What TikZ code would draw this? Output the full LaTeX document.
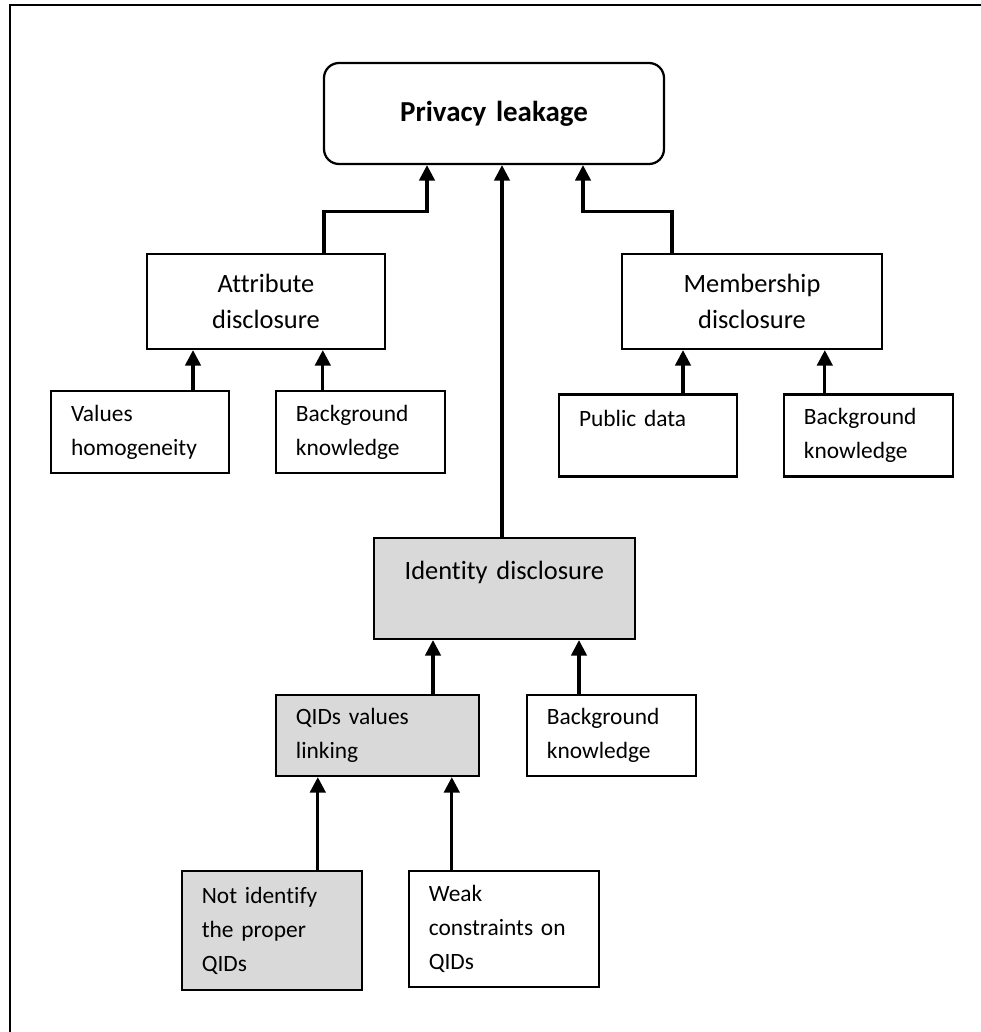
\documentclass[tikz,border=0pt]{standalone}
\usepackage{fontspec}
\setmainfont[Ligatures={NoCommon,NoRare,NoContextual}]{Carlito}
\usetikzlibrary{arrows.meta,calc}
\definecolor{boxgray}{HTML}{D9D9D9}
\tikzset{
>={Triangle[width=11pt,length=11pt]},
	topbox/.style={
		rectangle,
		rounded corners=0.375cm,
		fill=white,
		draw=black, line width=1.6pt,
		text width=7.5cm,
		inner xsep=0.5cm,
		minimum height=2.525cm,
		text centered,
		font=\fontsize{20.6}{25}\selectfont\bfseries},
	midbox/.style={
		rectangle,
		sharp corners,
		fill=white,
		draw=black, line width=1.6pt,
		inner xsep=0.5cm,
		minimum height=2.375cm,
		text centered,
		font=\fontsize{18.8}{25.6}\selectfont},
	leafbox/.style={
		rectangle,
		sharp corners,
		fill=white,
		draw=black, line width=1.6pt,
		text width=3.225cm,
		inner xsep=0.5cm,
		minimum height=2.05cm,
		align=left,
		font=\fontsize{16.65}{24.2}\selectfont},
	link/.style={->, line width=2.2pt}
}
\begin{document}
\begin{tikzpicture}
\useasboundingbox (0,0) rectangle (24.5,-25.8);
\draw[line width=2.1pt] (0.25,-26.5) |- (25.5,-0.125);
\node[topbox] (priv) at (12.35,-2.8375) {Privacy leakage};
\node[midbox, text width=4.95cm, node distance=4.7cm, below of=priv, xshift=-5.7cm] (attr) {Attribute\\disclosure};
\node[midbox, text width=5.5cm, node distance=12.15cm, right of=attr] (memb) {Membership\\disclosure};
\node[leafbox, text width=3.45cm, node distance=3.26cm, below of=attr, xshift=-3.15cm] (valhom) {Values\\homogeneity};
\node[leafbox, node distance=5.51cm, right of=valhom] (attrbk) {Background\\knowledge};
\node[leafbox, text width=3.45cm, node distance=3.35cm, below of=memb, xshift=-2.6cm] (pubdata) {Public data\\ \mbox{}};
\node[leafbox, node distance=5.51cm, right of=pubdata] (membbk) {Background\\knowledge};
\node[midbox, fill=boxgray, text width=5.525cm, minimum height=2.525cm, node distance=11.875cm, below of=priv, xshift=0.26cm] (ident) {Identity disclosure\\ \mbox{}};
\node[leafbox, fill=boxgray, text width=4.075cm, minimum height=2.025cm, node distance=3.675cm, below of=ident, xshift=-3.175cm] (qid) {QIDs values\\linking};
\node[leafbox, minimum height=2.025cm, node distance=5.85cm, right of=qid] (identbk) {Background\\knowledge};
\node[leafbox, fill=boxgray, text width=3.5cm, minimum height=2.975cm, node distance=4.875cm, below of=qid, xshift=-2.64cm] (notid) {Not identify\\the proper\\QIDs};
\node[leafbox, text width=3.75cm, minimum height=2.9cm, node distance=5.8cm, right of=notid, yshift=0.04cm] (weak) {Weak\\constraints on\\QIDs};
\draw[link] ($(attr.north)+(1.45,0)$) |- ($(priv.south)+(-1.675,-1.15)$) -- ($(priv.south)+(-1.675,0)$);
\draw[link] ($(memb.north)+(-2,0)$) |- ($(priv.south)+(2.225,-1.15)$) -- ($(priv.south)+(2.225,0)$);
\draw[link] ($(ident.north)+(-0.06,0)$) -- ($(ident.north |- priv.south)+(-0.06,0)$);
\draw[link] ($(valhom.north)+(1.325,0)$) -- ($(valhom.north |- attr.south)+(1.325,0)$);
\draw[link] ($(attrbk.north)+(-0.94,0)$) -- ($(attrbk.north |- attr.south)+(-0.94,0)$);
\draw[link] ($(pubdata.north)+(0.875,0)$) -- ($(pubdata.north |- memb.south)+(0.875,0)$);
\draw[link] ($(membbk.north)+(-1.09,0)$) -- ($(membbk.north |- memb.south)+(-1.09,0)$);
\draw[link] ($(qid.north)+(1.39,0)$) -- ($(qid.north |- ident.south)+(1.39,0)$);
\draw[link] ($(identbk.north)+(-0.81,0)$) -- ($(identbk.north |- ident.south)+(-0.81,0)$);
\draw[link] ($(notid.north)+(1.15,0)$) -- ($(notid.north |- qid.south)+(1.15,0)$);
\draw[link] ($(weak.north)+(-1.3,0)$) -- ($(weak.north |- qid.south)+(-1.3,0)$);
\end{tikzpicture}
\end{document}
